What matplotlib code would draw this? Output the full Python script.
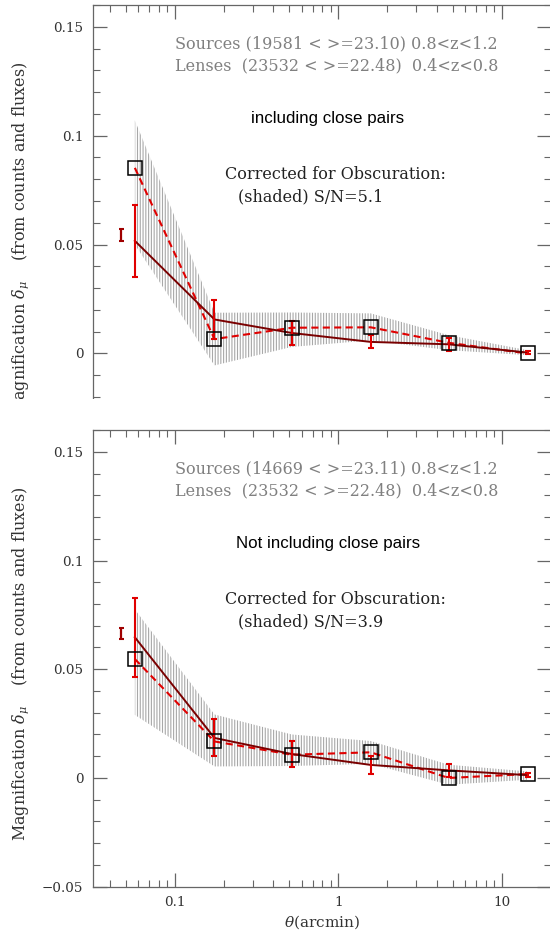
import matplotlib.pyplot as plt
from matplotlib.patches import Rectangle
from matplotlib.ticker import FuncFormatter, MultipleLocator, FixedLocator, LogLocator

plt.rcParams.update({
    "font.family": "DejaVu Serif",
    "mathtext.fontset": "dejavuserif",
    "hatch.linewidth": 0.8,
    "hatch.color": "#a8a8a8",
})

# Angular bins (arcmin)
theta = [0.057, 0.175, 0.52, 1.58, 4.73, 14.4]

# With close pairs: counts+fluxes estimate and errors
top_mag = [0.0517, 0.0156, 0.0094, 0.0053, 0.0042, 0.0004]
top_err = [0.0165, 0.0088, 0.0054, 0.0030, 0.0029, 0.0008]
# corrected for obscuration (squares) and its shaded range
top_corr = [0.0852, 0.0066, 0.0118, 0.0120, 0.0049, 0.0000]
top_lo = [0.050, -0.0055, 0.0030, 0.0060, 0.0015, -0.0008]
top_hi = [0.107, 0.0187, 0.0188, 0.0184, 0.0084, 0.0015]

# Without close pairs
bot_mag = [0.0647, 0.0184, 0.0110, 0.0060, 0.0035, 0.0013]
bot_err = [0.0181, 0.0085, 0.0058, 0.0040, 0.0029, 0.0008]
bot_corr = [0.0547, 0.0168, 0.0107, 0.0118, 0.0000, 0.0018]
bot_lo = [0.029, 0.0053, 0.0055, 0.0065, -0.0031, -0.0008]
bot_hi = [0.0775, 0.0292, 0.0200, 0.0170, 0.0061, 0.0030]

# typical error marker at small scale
ref_x = 0.0468
top_ref = (0.0543, 0.0027)
bot_ref = (0.0665, 0.0026)

panels = [
    dict(mag=top_mag, err=top_err, corr=top_corr, lo=top_lo, hi=top_hi, ref=top_ref,
         src="Sources (19581 < >=23.10) 0.8<z<1.2", title="including close pairs", sn="5.1"),
    dict(mag=bot_mag, err=bot_err, corr=bot_corr, lo=bot_lo, hi=bot_hi, ref=bot_ref,
         src="Sources (14669 < >=23.11) 0.8<z<1.2", title="Not including close pairs", sn="3.9"),
]

fig = plt.figure(figsize=(5.5, 9.32), dpi=100)
ax_top = fig.add_axes([0.1691, 0.5039, 0.8327, 0.4908], zorder=0)
ax_bot = fig.add_axes([0.1691, 0.0486, 0.8327, 0.4900], zorder=2)

tick_fmt = FuncFormatter(lambda v, pos: f"{v:g}".replace("-", "\u2212"))
text_size = 11.5

for ax, p in zip([ax_top, ax_bot], panels):
    ax.set_xscale("log")
    ax.set_xlim(10 ** -1.5, 20)
    ax.set_ylim(-0.05, 0.16)

    ax.fill_between(theta, p["lo"], p["hi"], facecolor="none", edgecolor="#a8a8a8",
                    hatch="||||||", linewidth=0, zorder=1)
    ax.plot(theta, p["corr"], color="#e00000", lw=1.5, dashes=(3.4, 2.1), zorder=2)
    ax.plot(theta, p["mag"], color="#7a0000", lw=1.4, zorder=3)
    ax.errorbar(theta, p["mag"], yerr=p["err"], fmt="none", ecolor="#e00000",
                elinewidth=1.5, capsize=2.5, capthick=1.5, zorder=4)
    ax.errorbar([ref_x], [p["ref"][0]], yerr=[p["ref"][1]], fmt="none", ecolor="#a00000",
                elinewidth=1.6, capsize=1.8, capthick=1.5, zorder=4)
    ax.plot(theta, p["corr"], ls="none", marker="s", ms=9.4, mfc="none", mec="black",
            mew=1.1, zorder=5)

    ax.text(0.179, 0.915, p["src"], transform=ax.transAxes, color="#808080",
            fontsize=text_size, va="center", ha="left")
    ax.text(0.179, 0.867, "Lenses  (23532 < >=22.48)  0.4<z<0.8", transform=ax.transAxes,
            color="#808080", fontsize=text_size, va="center", ha="left")
    ax.text(0.513, 0.752, p["title"], transform=ax.transAxes, color="black",
            fontsize=12.2, family="Liberation Sans", va="center", ha="center")
    ax.text(0.288, 0.629, "Corrected for Obscuration:", transform=ax.transAxes,
            color="#222222", fontsize=text_size, va="center", ha="left")
    ax.text(0.316, 0.580, "(shaded) S/N=" + p["sn"], transform=ax.transAxes,
            color="#222222", fontsize=text_size, va="center", ha="left")

    ax.set_ylabel(r"Magnification $\delta_\mu$    (from counts and fluxes)",
                  fontsize=text_size, color="#333333")
    ax.yaxis.set_label_coords(-0.135, 0.488)

    ax.yaxis.set_minor_locator(MultipleLocator(0.01))
    ax.yaxis.set_major_formatter(tick_fmt)
    ax.xaxis.set_major_locator(LogLocator(base=10))
    ax.xaxis.set_minor_locator(LogLocator(base=10, subs=range(2, 10)))
    ax.xaxis.set_major_formatter(tick_fmt)
    ax.tick_params(which="both", direction="in", top=True, right=True, color="#666666",
                   labelcolor="#333333", labelsize=9.7, pad=7)
    ax.tick_params(which="major", length=10, width=0.9)
    ax.tick_params(which="minor", length=5, width=0.8)
    for s in ax.spines.values():
        s.set_color("#666666")
        s.set_linewidth(0.9)

# lower part of the upper panel is blanked, so it only needs the upper ticks
ax_top.yaxis.set_major_locator(FixedLocator([0, 0.05, 0.1, 0.15]))
ax_bot.yaxis.set_major_locator(MultipleLocator(0.05))
ax_top.tick_params(labelbottom=False)
ax_bot.set_xlabel(r"$\theta$(arcmin)", fontsize=11, color="#333333", labelpad=3)

# blank strip between the two panels
fig.add_artist(Rectangle((0, 0.4957), 1, 0.0762, transform=fig.transFigure,
                         facecolor="white", edgecolor="none", zorder=1))

plt.savefig("out.png", dpi=100)
